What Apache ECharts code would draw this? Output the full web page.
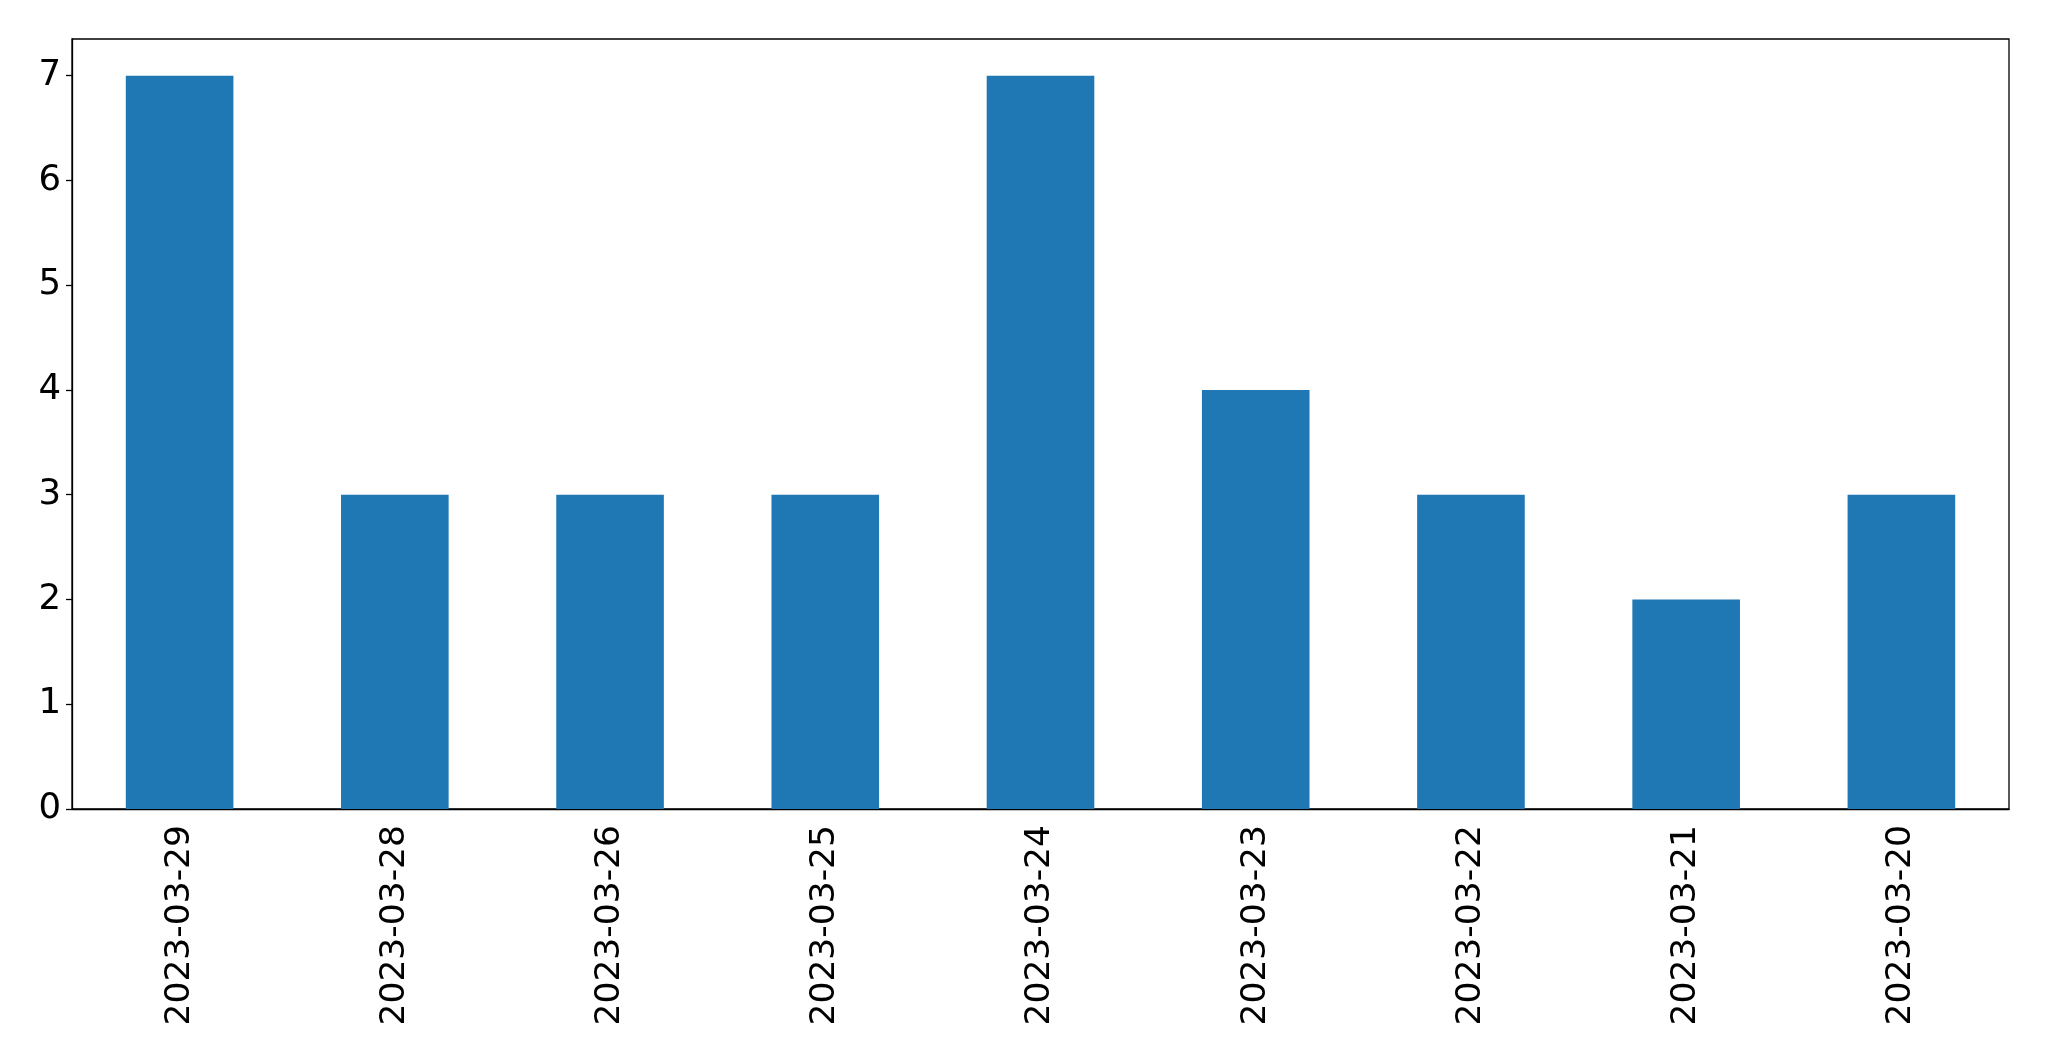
<!DOCTYPE html>
<html>
<head>
<meta charset="utf-8">
<script src="https://cdn.jsdelivr.net/npm/echarts@6/dist/echarts.min.js"></script>
<style>html,body{margin:0;padding:0;background:#fff;}#c{width:2049px;height:1061px;}</style>
</head>
<body>
<div id="c"></div>
<script>
const categories = ['2023-03-29','2023-03-28','2023-03-26','2023-03-25','2023-03-24','2023-03-23','2023-03-22','2023-03-21','2023-03-20'];
const values = [7, 3, 3, 3, 7, 4, 3, 2, 3];
const yTicks = [0, 1, 2, 3, 4, 5, 6, 7];

const chart = echarts.init(document.getElementById('c'), null, {renderer: 'canvas'});
chart.setOption({
  animation: false,
  backgroundColor: '#fff',
  grid: {left: 72, right: 40, top: 39, bottom: 252, show: true, borderColor: '#000', borderWidth: 1.3, containLabel: false},
  xAxis: {
    type: 'category',
    data: categories,
    boundaryGap: true,
    axisLine: {lineStyle: {color: '#000', width: 1.3}},
    axisTick: {alignWithLabel: true, length: 6, lineStyle: {color: '#000', width: 1.3}},
    axisLabel: {rotate: 90, margin: 16, color: '#000', fontSize: 34.5, fontFamily: 'DejaVu Sans', interval: 0}
  },
  yAxis: {
    type: 'value',
    min: 0,
    max: 7.35,
    interval: 1,
    splitLine: {show: false},
    axisLine: {show: true, lineStyle: {color: '#000', width: 1.3}},
    axisTick: {show: true, length: 6, lineStyle: {color: '#000', width: 1.3}, customValues: yTicks},
    axisLabel: {margin: 11, color: '#000', fontSize: 35.5, fontFamily: 'DejaVu Sans', customValues: yTicks}
  },
  series: [{
    type: 'bar',
    data: values,
    barWidth: '50%',
    itemStyle: {color: '#1f77b4'}
  }]
});
</script>
</body>
</html>
